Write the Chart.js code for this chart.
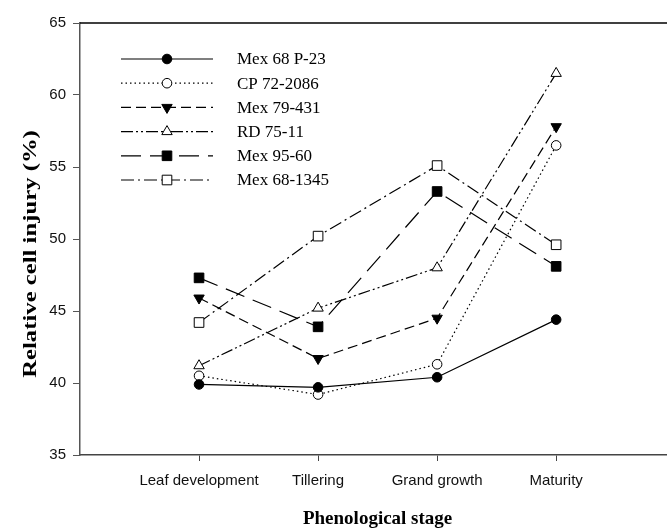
<!DOCTYPE html>
<html>
<head>
<meta charset="utf-8">
<script src="https://cdn.jsdelivr.net/npm/chart.js@4.4.1/dist/chart.umd.min.js"></script>
<style>
  html,body{margin:0;padding:0;background:#fff;overflow:hidden;}
  #wrap{width:683px;height:529px;}
</style>
</head>
<body>
<div id="wrap"><canvas id="chartInjury"></canvas></div>
<script>
// datos
const stages = ['Leaf development','Tillering','Grand growth','Maturity'];
const cultivars = ['Mex 68 P-23','CP 72-2086','Mex 79-431','RD 75-11','Mex 95-60','Mex 68-1345'];
const mex68p23  = [39.9, 39.7, 40.4, 44.4];
const cp722086  = [40.5, 39.2, 41.3, 56.5];
const mex79431  = [45.9, 41.7, 44.5, 57.8];
const rd7511    = [41.2, 45.2, 48.0, 61.5];
const mex9560   = [47.3, 43.9, 53.3, 48.1];
const mex681345 = [44.2, 50.2, 55.1, 49.6];
const yTicks = [35, 40, 45, 50, 55, 60, 65];

const series = [mex68p23, cp722086, mex79431, rd7511, mex9560, mex681345];
// estilo de cada serie: linea, marcador, relleno
const styles = [
  {dash:[],               point:'circle',   rot:0,   fill:'#000', r:4.8},
  {dash:[1.5,3],          point:'circle',   rot:0,   fill:'#fff', r:4.8},
  {dash:[10,5],           point:'triangle', rot:180, fill:'#000', r:6},
  {dash:[12,3,2,3,2,3],   point:'triangle', rot:0,   fill:'#fff', r:6},
  {dash:[20,9],           point:'rect',     rot:0,   fill:'#000', r:6.8},
  {dash:[13,4,2,4],       point:'rect',     rot:0,   fill:'#fff', r:6.8}
];

const datasets = series.map((vals,i)=>({
  label: cultivars[i],
  data: vals.map((v,j)=>({x:j+1,y:v})),
  borderColor:'#000',
  borderWidth:1.2,
  borderDash: styles[i].dash,
  pointStyle: styles[i].point,
  pointRotation: styles[i].rot,
  pointRadius: styles[i].r,
  pointHoverRadius: styles[i].r,
  pointBackgroundColor: styles[i].fill,
  pointBorderColor:'#000',
  pointBorderWidth:1,
  tension:0,
  fill:false
}));

// leyenda con linea + marcador, y linea superior del marco
const extras = {
  id:'extras',
  afterDraw(chart){
    const ctx = chart.ctx, a = chart.chartArea;
    ctx.save();
    ctx.strokeStyle='#000'; ctx.lineWidth=1.5;
    ctx.beginPath(); ctx.moveTo(a.left,a.top); ctx.lineTo(a.right,a.top); ctx.stroke();

    chart.data.datasets.forEach((ds,i)=>{
      const y = 59 + i*24.2;
      ctx.strokeStyle='#000'; ctx.lineWidth=1.2;
      ctx.setLineDash(ds.borderDash);
      ctx.beginPath(); ctx.moveTo(121,y); ctx.lineTo(213,y); ctx.stroke();
      ctx.setLineDash([]);
      ctx.fillStyle = ds.pointBackgroundColor;
      ctx.strokeStyle = '#000'; ctx.lineWidth = 1;
      Chart.helpers.drawPoint(ctx,{pointStyle:ds.pointStyle,rotation:ds.pointRotation,radius:ds.pointRadius,borderWidth:1},167,y);
      ctx.fillStyle='#000';
      ctx.font='17px "Liberation Serif", "Times New Roman", serif';
      ctx.textBaseline='middle'; ctx.textAlign='left';
      ctx.fillText(ds.label,237,y+1);
    });

    // titulo eje y (estirado como en la figura)
    ctx.translate(31,254);
    ctx.rotate(-Math.PI/2);
    ctx.scale(1.3,1);
    ctx.font='bold 19px "Liberation Serif", "Times New Roman", serif';
    ctx.textAlign='center'; ctx.textBaseline='middle';
    ctx.fillText('Relative cell injury (%)',0,0);
    ctx.restore();
  }
};

new Chart(document.getElementById('chartInjury'),{
  type:'line',
  data:{datasets},
  options:{
    responsive:true,
    maintainAspectRatio:false,
    animation:false,
    layout:{padding:{top:23,left:0,right:0,bottom:0}},
    plugins:{legend:{display:false},tooltip:{enabled:false}},
    scales:{
      x:{
        type:'linear', min:0, max:5,
        afterBuildTicks:s=>{ s.ticks = stages.map((_,i)=>({value:i+1})); },
        afterFit:s=>{ s.height = 74; },
        ticks:{
          callback:v=>stages[v-1],
          autoSkip:false, maxRotation:0, padding:11,
          color:'#111',
          font:{family:'"Liberation Sans", Arial, sans-serif', size:15}
        },
        grid:{drawOnChartArea:false, drawTicks:true, tickLength:6, color:'#444'},
        border:{display:true, color:'#444', width:1.5},
        title:{
          display:true, text:'Phenological stage', color:'#000',
          padding:{top:0,bottom:0},
          font:{family:'"Liberation Serif", "Times New Roman", serif', size:19, weight:'bold', lineHeight:1}
        }
      },
      y:{
        min:35, max:65,
        afterBuildTicks:s=>{ s.ticks = yTicks.map(v=>({value:v})); },
        afterFit:s=>{ s.width = 80; },
        ticks:{
          padding:7, color:'#111',
          font:{family:'"Liberation Sans", Arial, sans-serif', size:15}
        },
        grid:{drawOnChartArea:false, drawTicks:true, tickLength:7, color:'#555'},
        border:{display:true, color:'#555', width:1.5}
      }
    }
  },
  plugins:[extras]
});
</script>
</body>
</html>
